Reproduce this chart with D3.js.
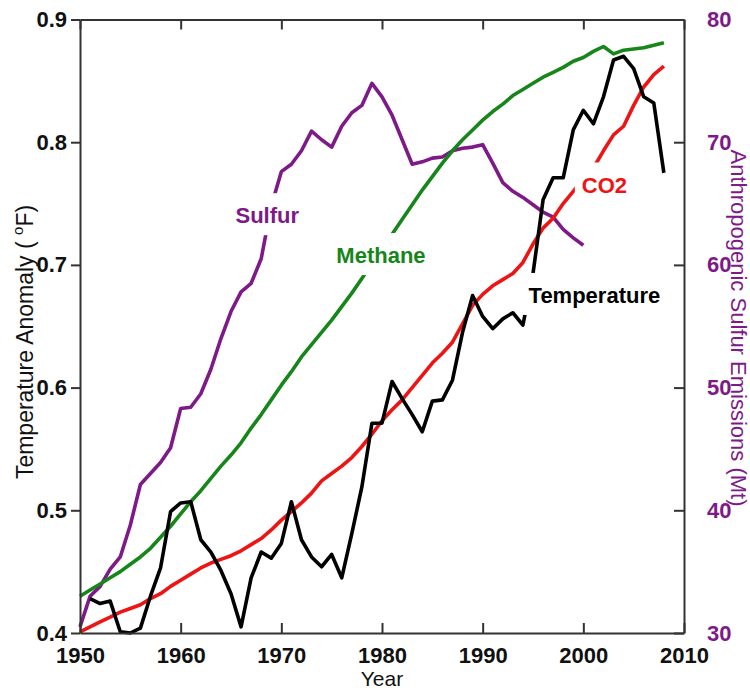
<!DOCTYPE html>
<html><head><meta charset="utf-8">
<script src="https://cdn.jsdelivr.net/npm/d3@7"></script>
<style>body{margin:0;background:#fff} svg{display:block}</style>
</head><body><svg id="c" width="750" height="692"></svg>
<script>
// ---------------- data ----------------
const xTicks = [1950, 1960, 1970, 1980, 1990, 2000, 2010];
const leftTicks = [0.4, 0.5, 0.6, 0.7, 0.8, 0.9];
const rightTicks = [30, 40, 50, 60, 70, 80];

const tempStart = 1951;
const tempValues = [0.428,0.424,0.426,0.401,0.400,0.404,0.430,0.453,0.499,0.506,
  0.507,0.476,0.466,0.451,0.432,0.405,0.445,0.466,0.461,0.473,
  0.507,0.476,0.462,0.454,0.464,0.445,0.481,0.519,0.571,0.571,
  0.605,0.591,0.578,0.564,0.589,0.590,0.606,0.645,0.675,0.658,
  0.648,0.656,0.661,0.651,0.693,0.753,0.771,0.771,0.810,0.826,
  0.815,0.837,0.867,0.870,0.860,0.837,0.832,0.775];

const sulfurStart = 1950; // Mt, right axis
const sulfurValues = [30.5,33.0,33.8,35.2,36.2,38.8,42.1,43.0,43.9,45.1,
  48.3,48.4,49.5,51.5,54.0,56.2,57.8,58.5,60.5,64.8,
  67.6,68.2,69.3,70.9,70.2,69.6,71.3,72.4,73.0,74.8,
  73.7,72.2,70.2,68.2,68.4,68.7,68.8,69.3,69.5,69.6,
  69.8,68.3,66.7,66.0,65.5,64.9,64.3,63.9,62.9,62.2,61.6];

const methaneStart = 1950;
const methaneValues = [0.430,0.435,0.440,0.445,0.450,0.456,0.462,0.469,0.478,0.487,
  0.497,0.507,0.516,0.526,0.536,0.545,0.555,0.567,0.578,0.590,
  0.602,0.613,0.625,0.635,0.645,0.655,0.666,0.677,0.689,0.701,
  0.714,0.725,0.737,0.749,0.761,0.772,0.783,0.793,0.802,0.810,
  0.818,0.825,0.831,0.838,0.843,0.848,0.853,0.857,0.861,0.866,
  0.869,0.874,0.878,0.872,0.875,0.876,0.877,0.879,0.881];

const co2Start = 1950;
const co2Values = [0.401,0.405,0.409,0.413,0.417,0.420,0.423,0.428,0.432,0.438,
  0.443,0.448,0.453,0.457,0.460,0.463,0.467,0.472,0.477,0.484,
  0.492,0.499,0.506,0.514,0.524,0.530,0.536,0.543,0.552,0.562,
  0.573,0.582,0.590,0.600,0.610,0.620,0.628,0.637,0.652,0.667,
  0.676,0.683,0.688,0.693,0.702,0.717,0.730,0.738,0.750,0.760,
  0.770,0.779,0.793,0.806,0.813,0.830,0.845,0.855,0.862];

const labelNames  = ["Sulfur", "Methane", "Temperature", "CO2"];
const labelYears  = [1968.6, 1979.9, 2001.1, 2002.1];
const labelValues = [0.734, 0.7015, 0.669, 0.759];
const labelColors = ["#7e1a88", "#17861a", "#000000", "#ee1414"];

// ---------------- layout ----------------
const svg = d3.select("#c");
const L = 80, R = 684, T = 19.5, B = 633;
const x = d3.scaleLinear([1950, 2010], [L, R]);
const yL = d3.scaleLinear([0.4, 0.9], [B, T]);
const yR = d3.scaleLinear([30, 80], [B, T]);
const font = "'Liberation Sans', Arial, Helvetica, sans-serif";
const purple = "#7e1a88";

function toPts(start, vals){ return vals.map((v,i)=>({yr:start+i, v})); }

const lineL = d3.line().x(d=>x(d.yr)).y(d=>yL(d.v));
const lineR = d3.line().x(d=>x(d.yr)).y(d=>yR(d.v));

const gLines = svg.append("g").attr("fill","none").attr("stroke-width",3.6)
  .attr("stroke-linejoin","round").attr("stroke-linecap","butt");
gLines.append("path").datum(toPts(sulfurStart,sulfurValues)).attr("d",lineR).attr("stroke",purple);
gLines.append("path").datum(toPts(methaneStart,methaneValues)).attr("d",lineL).attr("stroke","#17861a");
gLines.append("path").datum(toPts(co2Start,co2Values)).attr("d",lineL).attr("stroke","#ee1414");
gLines.append("path").datum(toPts(tempStart,tempValues)).attr("d",lineL).attr("stroke","#000");

// series labels with white knock-out background
const gLab = svg.append("g");
labelNames.forEach((name,i)=>{
  const g = gLab.append("g");
  const rect = g.append("rect").attr("fill","#fff");
  const t = g.append("text").attr("x", x(labelYears[i])).attr("y", yL(labelValues[i]))
    .attr("text-anchor","middle").attr("font-family",font).attr("font-weight","bold")
    .attr("font-size",22).attr("fill",labelColors[i]).text(name);
  const bb = t.node().getBBox();
  const base = yL(labelValues[i]);
  rect.attr("x", bb.x-7).attr("y", base-30).attr("width", bb.width+14).attr("height", 42);
});

// axes
const axisStyle = g=>{
  g.selectAll(".domain").attr("stroke","#333").attr("stroke-width",2);
  g.selectAll(".tick line").attr("stroke","#333").attr("stroke-width",2);
  g.selectAll("text").attr("font-family",font).attr("font-weight","bold").attr("font-size",22);
};
svg.append("g").attr("transform",`translate(0,${B})`)
  .call(d3.axisBottom(x).tickValues(xTicks).tickFormat(d3.format("d")).tickSize(-10).tickSizeOuter(0).tickPadding(14))
  .call(axisStyle).call(g=>g.selectAll("text").attr("fill","#111"));
svg.append("g").attr("transform",`translate(0,${T})`)
  .call(d3.axisTop(x).tickValues(xTicks).tickFormat("").tickSize(-10).tickSizeOuter(0))
  .call(axisStyle);
svg.append("g").attr("transform",`translate(${L},0)`)
  .call(d3.axisLeft(yL).tickValues(leftTicks).tickFormat(d3.format(".1f")).tickSize(9).tickSizeOuter(0).tickPadding(4))
  .call(axisStyle).call(g=>g.selectAll("text").attr("fill","#111"));
svg.append("g").attr("transform",`translate(${R},0)`)
  .call(d3.axisRight(yR).tickValues(rightTicks).tickSize(-10).tickSizeOuter(0).tickPadding(23))
  .call(axisStyle).call(g=>g.selectAll("text").attr("fill",purple));

// axis titles
svg.append("text").attr("x",382).attr("y",686).attr("text-anchor","middle")
  .attr("font-family",font).attr("font-size",21).attr("fill","#111").text("Year");

const lt = svg.append("text").attr("transform","translate(25,342) rotate(-90)")
  .attr("text-anchor","middle").attr("dominant-baseline","central")
  .attr("font-family",font).attr("font-size",23).attr("fill","#111");
lt.append("tspan").text("Temperature Anomaly ( ");
lt.append("tspan").attr("font-size",15).attr("dy",-8).text("o");
lt.append("tspan").attr("dy",8).text("F)");

svg.append("text").attr("transform","translate(738,328) rotate(90)")
  .attr("text-anchor","middle").attr("dominant-baseline","central")
  .attr("font-family",font).attr("font-size",22).attr("fill",purple)
  .text("Anthropogenic Sulfur Emissions (Mt)");
</script></body></html>
